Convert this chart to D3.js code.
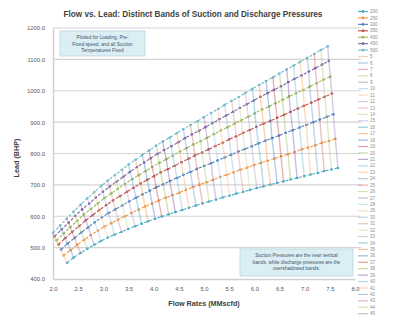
<!DOCTYPE html>
<html>
<head>
<meta charset="utf-8">
<script src="https://cdn.jsdelivr.net/npm/d3@7/dist/d3.min.js"></script>
<style>
    body { margin: 0; background: #fff; }
    svg { display: block; font-family: "Liberation Sans", Arial, sans-serif; }
</style>
</head>
<body>
<svg id="chart" width="393" height="326"></svg>
<script>
// discharge pressure curves, lowest (series 1) to highest
const FLOW_D1 = [2.28,2.41,2.55,2.68,2.82,2.95,3.09,3.22,3.36,3.49,3.63,3.76,3.89,4.03,4.16,4.30,4.43,4.57,4.70,4.84,4.97,5.10,5.24,5.37,5.51,5.64,5.78,5.91,6.05,6.18,6.32,6.45,6.58,6.72,6.85,6.99,7.12,7.26,7.39,7.53,7.66];
const HEAD_D1 = [452,468,483,496,509,521,532,541,550,559,568,576,584,592,599,606,613,620,627,634,641,647,653,660,666,672,678,684,690,695,701,706,711,717,722,728,733,738,744,749,754];
const FLOW_D2 = [2.21,2.35,2.48,2.62,2.75,2.89,3.02,3.16,3.29,3.43,3.56,3.70,3.83,3.97,4.10,4.24,4.37,4.51,4.64,4.78,4.91,5.05,5.18,5.32,5.45,5.59,5.72,5.86,5.99,6.13,6.26,6.40,6.53,6.67,6.80,6.94,7.07,7.21,7.34,7.48,7.61];
const HEAD_D2 = [475,492,509,525,540,554,567,578,589,600,611,621,631,641,650,659,667,675,684,693,701,708,716,725,732,740,748,755,763,770,777,784,791,798,805,813,819,826,834,840,847];
const FLOW_D3 = [2.16,2.29,2.43,2.56,2.70,2.83,2.97,3.10,3.24,3.38,3.51,3.65,3.78,3.92,4.05,4.19,4.32,4.46,4.59,4.73,4.86,5.00,5.14,5.27,5.41,5.54,5.68,5.81,5.95,6.08,6.22,6.35,6.49,6.62,6.76,6.90,7.03,7.17,7.30,7.44,7.57];
const HEAD_D3 = [494,513,531,548,565,581,596,610,622,635,647,659,670,681,692,702,712,722,732,741,751,760,769,778,787,796,806,814,823,832,841,849,857,866,874,883,891,900,908,917,925];
const FLOW_D4 = [2.11,2.24,2.38,2.52,2.65,2.79,2.92,3.06,3.19,3.33,3.47,3.60,3.74,3.87,4.01,4.14,4.28,4.42,4.55,4.69,4.82,4.96,5.09,5.23,5.37,5.50,5.64,5.77,5.91,6.04,6.18,6.32,6.45,6.59,6.72,6.86,6.99,7.13,7.27,7.40,7.54];
const HEAD_D4 = [510,530,550,569,587,604,620,636,650,664,678,691,704,716,728,740,750,761,772,783,794,803,813,824,834,845,855,865,875,885,895,904,914,923,933,943,952,962,972,981,991];
const FLOW_D5 = [2.07,2.21,2.34,2.48,2.61,2.75,2.89,3.02,3.16,3.29,3.43,3.57,3.70,3.84,3.97,4.11,4.25,4.38,4.52,4.65,4.79,4.93,5.06,5.20,5.33,5.47,5.61,5.74,5.88,6.01,6.15,6.29,6.42,6.56,6.69,6.83,6.97,7.10,7.24,7.37,7.51];
const HEAD_D5 = [523,545,565,585,605,623,641,658,673,688,703,718,731,744,757,770,782,793,806,817,829,839,850,862,873,884,896,906,917,928,940,950,960,971,982,992,1002,1013,1024,1035,1045];
const FLOW_D6 = [2.03,2.17,2.31,2.44,2.58,2.72,2.85,2.99,3.12,3.26,3.40,3.53,3.67,3.81,3.94,4.08,4.21,4.35,4.49,4.62,4.76,4.90,5.03,5.17,5.30,5.44,5.58,5.71,5.85,5.99,6.12,6.26,6.39,6.53,6.67,6.80,6.94,7.08,7.21,7.35,7.48];
const HEAD_D6 = [536,558,579,601,622,641,660,678,694,710,726,742,757,771,785,799,811,823,836,849,861,872,884,897,909,921,933,945,957,969,981,992,1003,1014,1027,1038,1049,1061,1072,1084,1095];
const FLOW_D7 = [2.00,2.14,2.27,2.41,2.55,2.68,2.82,2.96,3.09,3.23,3.37,3.50,3.64,3.77,3.91,4.05,4.18,4.32,4.46,4.59,4.73,4.87,5.00,5.14,5.28,5.41,5.55,5.69,5.82,5.96,6.10,6.23,6.37,6.50,6.64,6.78,6.91,7.05,7.19,7.32,7.46];
const HEAD_D7 = [547,570,592,615,637,657,677,697,714,731,748,765,780,795,810,825,838,851,865,878,891,903,916,929,942,955,968,980,993,1006,1019,1031,1043,1055,1068,1080,1092,1105,1117,1130,1142];

const DISCHARGE_LABELS = ["200", "250", "300", "350", "400", "450", "500"];
const SUCTION_LABELS = d3.range(5, 46).map(String);

const X_TICKS = [2.0, 2.5, 3.0, 3.5, 4.0, 4.5, 5.0, 5.5, 6.0, 6.5, 7.0, 7.5, 8.0];
const Y_TICKS = [400, 500, 600, 700, 800, 900, 1000, 1100, 1200];

const PALETTE = ["#4BACC6", "#F79646", "#4F81BD", "#C0504D", "#9BBB59", "#8064A2"];

const flows = [FLOW_D1, FLOW_D2, FLOW_D3, FLOW_D4, FLOW_D5, FLOW_D6, FLOW_D7];
const heads = [HEAD_D1, HEAD_D2, HEAD_D3, HEAD_D4, HEAD_D5, HEAD_D6, HEAD_D7];

// excel-ish colour for series n (0 based): base, lighter, lightest
function seriesColor(n) {
    const base = d3.color(PALETTE[n % 6]);
    const band = Math.floor(n / 6) % 3;
    if (band === 1) return d3.interpolateRgb(base, "#fff")(0.2);
    if (band === 2) return d3.interpolateRgb(base, "#fff")(0.4);
    return base.formatHex();
}

const discharge = flows.map((f, i) => ({
    label: DISCHARGE_LABELS[i],
    color: seriesColor(i),
    points: f.map((v, j) => ({ flow: v, head: heads[i][j] }))
}));

// each suction series joins the j-th point of every discharge curve
const suction = SUCTION_LABELS.map((label, j) => ({
    label: label,
    color: seriesColor(7 + j),
    points: flows.map((f, i) => ({ flow: f[j], head: heads[i][j] }))
}));

const svg = d3.select("#chart");

const x = d3.scaleLinear().domain([2, 8]).range([53, 355]);
const y = d3.scaleLinear().domain([400, 1200]).range([279, 28]);

// gridlines
svg.append("g")
    .selectAll("line")
    .data(Y_TICKS.slice(1))
    .enter()
    .append("line")
    .attr("x1", x(2))
    .attr("x2", x(8) + 6)
    .attr("y1", (d) => y(d))
    .attr("y2", (d) => y(d))
    .attr("stroke", "#d4d4d4")
    .attr("stroke-width", 1.2);

// axes
const yAxis = svg.append("g")
    .attr("transform", `translate(${x(2)},0)`)
    .call(d3.axisLeft(y).tickValues(Y_TICKS).tickFormat(d3.format(".1f")).tickSize(0).tickPadding(8));
yAxis.select(".domain").attr("stroke", "#d0d0d0").attr("stroke-width", 1.5);

const xAxis = svg.append("g")
    .attr("transform", `translate(0,${y(400)})`)
    .call(d3.axisBottom(x).tickValues(X_TICKS).tickFormat(d3.format(".1f")).tickSize(0).tickPadding(8));
xAxis.select(".domain").attr("stroke", "#d0d0d0").attr("stroke-width", 1.5);

svg.selectAll(".tick text")
    .attr("fill", "#595959")
    .style("font-size", "5.9px");

const line = d3.line()
    .x((d) => x(d.flow))
    .y((d) => y(d.head));

// discharge curves: dashed with round markers
const curves = svg.append("g")
    .selectAll("g")
    .data(discharge)
    .enter()
    .append("g");

curves.append("path")
    .attr("d", (d) => line(d.points))
    .attr("fill", "none")
    .attr("stroke", (d) => d.color)
    .attr("stroke-width", 1.1)
    .attr("stroke-dasharray", "3,1.6");

curves.selectAll("circle")
    .data((d) => d.points.map((p) => ({ ...p, color: d.color })))
    .enter()
    .append("circle")
    .attr("cx", (d) => x(d.flow))
    .attr("cy", (d) => y(d.head))
    .attr("r", 1.3)
    .attr("fill", (d) => d.color);

// suction lines, near vertical
svg.append("g")
    .selectAll("path")
    .data(suction)
    .enter()
    .append("path")
    .attr("d", (d) => line(d.points))
    .attr("fill", "none")
    .attr("stroke", (d) => d.color)
    .attr("stroke-width", 1.4)
    .attr("stroke-opacity", 0.42);

// text boxes
function noteBox(x0, y0, w, h, lines) {
    const g = svg.append("g");
    g.append("rect")
        .attr("x", x0).attr("y", y0)
        .attr("width", w).attr("height", h)
        .attr("fill", "#dbeef4")
        .attr("stroke", "#b7d4dd")
        .attr("stroke-width", 0.8);
    g.selectAll("text")
        .data(lines)
        .enter()
        .append("text")
        .attr("x", x0 + w / 2)
        .attr("y", (_d, i) => y0 + 8 + i * 6.5)
        .attr("text-anchor", "middle")
        .attr("fill", "#44546a")
        .style("font-size", "4.8px")
        .text((d) => d);
}

noteBox(60, 31, 85, 25, ["Plotted for Loading, Pre-", "Fixed speed, and all Suction", "Temperatures Fixed"]);
noteBox(240, 249, 113, 27, ["Suction Pressures are the near vertical", "bands, while discharge pressures are the", "overshadowed bands."]);

// titles
svg.append("text")
    .attr("x", 193)
    .attr("y", 17)
    .attr("text-anchor", "middle")
    .attr("fill", "#404040")
    .style("font-size", "8.2px")
    .style("font-weight", "bold")
    .text("Flow vs. Lead: Distinct Bands of Suction and Discharge Pressures");

svg.append("text")
    .attr("x", 204)
    .attr("y", 306)
    .attr("text-anchor", "middle")
    .attr("fill", "#404040")
    .style("font-size", "7.2px")
    .style("font-weight", "bold")
    .text("Flow Rates (MMscfd)");

svg.append("text")
    .attr("transform", "translate(19,158) rotate(-90)")
    .attr("text-anchor", "middle")
    .attr("fill", "#404040")
    .style("font-size", "7.2px")
    .style("font-weight", "bold")
    .text("Lead (BHP)");

// legend
const legendItems = discharge.map((d) => ({ ...d, marker: true }))
    .concat(suction.map((d) => ({ ...d, marker: false })));

const legend = svg.append("g")
    .selectAll("g")
    .data(legendItems)
    .enter()
    .append("g")
    .attr("transform", (_d, i) => `translate(358,${11.5 + i * 6.43})`);

legend.append("line")
    .attr("x1", 0).attr("x2", 10)
    .attr("stroke", (d) => d.color)
    .attr("stroke-width", (d) => d.marker ? 1.1 : 1.2)
    .attr("stroke-opacity", (d) => d.marker ? 1 : 0.55);

legend.filter((d) => d.marker)
    .append("circle")
    .attr("cx", 5)
    .attr("r", 1.4)
    .attr("fill", (d) => d.color);

legend.append("text")
    .attr("x", 12)
    .attr("y", 1.6)
    .attr("fill", "#8c8c8c")
    .style("font-size", "4.5px")
    .text((d) => d.label);
</script>
</body>
</html>
